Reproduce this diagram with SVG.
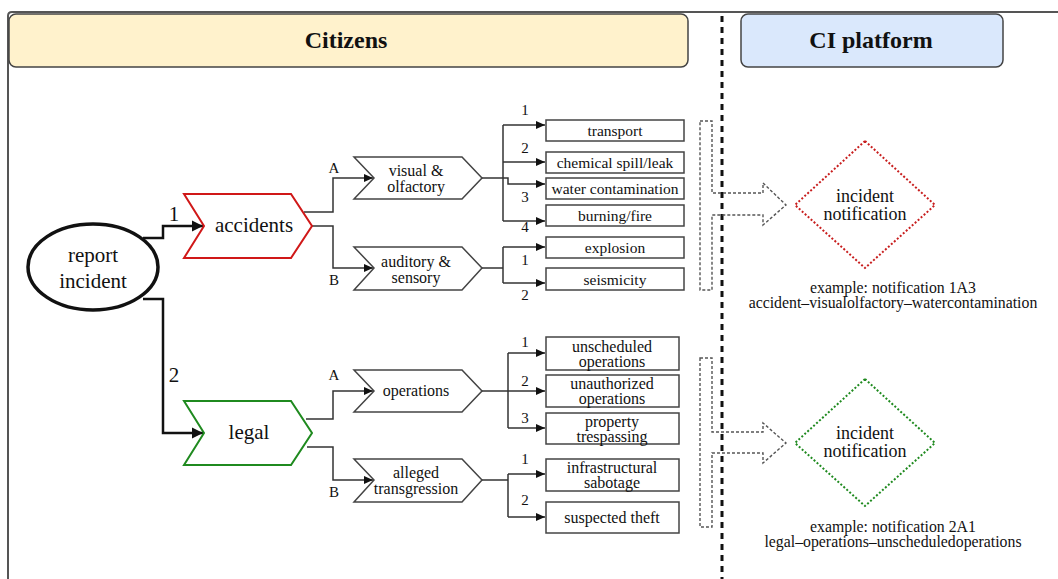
<svg xmlns="http://www.w3.org/2000/svg" width="1058" height="579" viewBox="0 0 1058 579">
<style>
text{font-family:'Liberation Serif','Times New Roman',serif;fill:#111;text-anchor:middle;dominant-baseline:central}
.hdr{font-size:24px;font-weight:bold}
.big{font-size:21px}
.nt{font-size:18px}
.mid{font-size:16px}
.sm{font-size:15.5px}
.lb{font-size:15px}
.ex{font-size:15.8px}
.box{fill:#fff;stroke:#444;stroke-width:1.5}
.chev{fill:#fff;stroke:#444;stroke-width:1.5}
.con{fill:none;stroke:#333;stroke-width:1.5}
.con2{fill:none;stroke:#111;stroke-width:2.5}
.brk{fill:none;stroke:#555;stroke-width:1.4;stroke-dasharray:3 2}
</style>
<defs>
<marker id="ah" markerUnits="userSpaceOnUse" markerWidth="10" markerHeight="10" refX="9" refY="5" orient="auto">
<path d="M0,1 L9,5 L0,9 z" fill="#111"/>
</marker>
<marker id="ah2" markerUnits="userSpaceOnUse" markerWidth="12" markerHeight="12" refX="11" refY="6" orient="auto">
<path d="M0,0.5 L11,6 L0,11.5 z" fill="#111"/>
</marker>
</defs>
<rect width="1058" height="579" fill="#fff"/>
<path d="M8,579 L8,16 Q8,12 12,12 L1058,12" fill="none" stroke="#555" stroke-width="2"/>
<g id="hdr-citizens">
<rect x="9" y="14" width="679" height="53" rx="7" fill="#fff2cc" stroke="#444" stroke-width="1.5"/>
<text class="hdr" x="346" y="40">Citizens</text>
</g>
<g id="hdr-ci">
<rect x="741" y="14" width="262" height="53" rx="7" fill="#dae8fc" stroke="#444" stroke-width="1.5"/>
<text class="hdr" x="871" y="40">CI platform</text>
</g>
<line x1="722" y1="16" x2="722" y2="579" stroke="#111" stroke-width="3" stroke-dasharray="6 5"/>

<g id="connectors">
<path class="con2" d="M143,238 H163 V226 H203" marker-end="url(#ah2)"/>
<path class="con2" d="M143,299 H163 V433 H203" marker-end="url(#ah2)"/>
<path class="con" d="M304,212 H333 V178 H373" marker-end="url(#ah)"/>
<path class="con" d="M312,226 H333 V268 H373" marker-end="url(#ah)"/>
<path class="con" d="M306,419 H333 V391 H373" marker-end="url(#ah)"/>
<path class="con" d="M307,447 H333 V480 H373" marker-end="url(#ah)"/>
<path class="con" d="M482,178 H503"/>
<path class="con" d="M503,125 V221"/>
<path class="con" d="M503,125 H545" marker-end="url(#ah)"/>
<path class="con" d="M503,162 H545" marker-end="url(#ah)"/>
<path class="con" d="M503,178 H508 V184 H545" marker-end="url(#ah)"/>
<path class="con" d="M503,221 H545" marker-end="url(#ah)"/>
<path class="con" d="M482,268 H503"/>
<path class="con" d="M503,247 V283"/>
<path class="con" d="M503,247 H545" marker-end="url(#ah)"/>
<path class="con" d="M503,283 H545" marker-end="url(#ah)"/>
<path class="con" d="M482,391 H545" marker-end="url(#ah)"/>
<path class="con" d="M508,353 V428"/>
<path class="con" d="M508,353 H545" marker-end="url(#ah)"/>
<path class="con" d="M508,428 H545" marker-end="url(#ah)"/>
<path class="con" d="M482,480 H508"/>
<path class="con" d="M508,474 V517"/>
<path class="con" d="M508,474 H545" marker-end="url(#ah)"/>
<path class="con" d="M508,517 H545" marker-end="url(#ah)"/>
<path class="brk" d="M700,121 H712 V193 H763 V183 L786,205 L763,225 V215 H712 V290 H700 Z"/>
<path class="brk" d="M700,358 H712 V432 H763 V423 L786,443 L763,463 V453 H712 V527 H700 Z"/>
<text class="big" x="174" y="214">1</text>
<text class="big" x="174" y="375">2</text>
<text class="lb" x="334" y="168">A</text>
<text class="lb" x="334" y="280">B</text>
<text class="lb" x="334" y="375">A</text>
<text class="lb" x="334" y="492">B</text>
<text class="lb" x="525" y="110">1</text>
<text class="lb" x="525" y="148">2</text>
<text class="lb" x="525" y="197">3</text>
<text class="lb" x="525" y="227">4</text>
<text class="lb" x="525" y="260">1</text>
<text class="lb" x="525" y="295">2</text>
<text class="lb" x="525" y="342">1</text>
<text class="lb" x="525" y="381">2</text>
<text class="lb" x="525" y="418">3</text>
<text class="lb" x="525" y="459">1</text>
<text class="lb" x="525" y="500">2</text>
</g>

<g id="report-incident">
<ellipse cx="93" cy="267" rx="65" ry="43" fill="#fff" stroke="#111" stroke-width="3.5"/>
<text class="big" x="93" y="255">report</text>
<text class="big" x="93" y="281">incident</text>
</g>
<g id="accidents">
<path d="M184,194 H291 L312,226 L291,258 H184 L204,226 Z" fill="#fff" stroke="#d01818" stroke-width="2"/>
<text class="big" x="254" y="225">accidents</text>
</g>
<g id="legal">
<path d="M184,401 H291 L312,433 L291,465 H184 L204,433 Z" fill="#fff" stroke="#1f8a1f" stroke-width="2"/>
<text class="big" x="249" y="432">legal</text>
</g>
<g id="visual">
<path class="chev" d="M354,157 H462 L482,178 L462,199 H354 L374,178 Z"/>
<text class="mid" x="416" y="170">visual &amp;</text>
<text class="mid" x="416" y="186">olfactory</text>
</g>
<g id="auditory">
<path class="chev" d="M354,247 H462 L482,268 L462,290 H354 L374,268 Z"/>
<text class="mid" x="416" y="261">auditory &amp;</text>
<text class="mid" x="416" y="277">sensory</text>
</g>
<g id="operations">
<path class="chev" d="M354,370 H462 L482,391 L462,412 H354 L374,391 Z"/>
<text class="mid" x="416" y="390">operations</text>
</g>
<g id="alleged">
<path class="chev" d="M354,459 H462 L482,480 L462,502 H354 L374,480 Z"/>
<text class="mid" x="416" y="472">alleged</text>
<text class="mid" x="416" y="488">transgression</text>
</g>
<g id="transport"><rect class="box" x="546" y="120" width="138" height="21"/><text class="sm" x="615" y="130">transport</text></g>
<g id="chemical"><rect class="box" x="546" y="152" width="138" height="21"/><text class="sm" x="615" y="162">chemical spill/leak</text></g>
<g id="water"><rect class="box" x="546" y="178" width="138" height="21"/><text class="sm" x="615" y="188">water contamination</text></g>
<g id="burning"><rect class="box" x="546" y="205" width="138" height="21"/><text class="sm" x="615" y="215">burning/fire</text></g>
<g id="explosion"><rect class="box" x="546" y="237" width="138" height="21"/><text class="sm" x="615" y="247">explosion</text></g>
<g id="seismicity"><rect class="box" x="546" y="268" width="138" height="22"/><text class="sm" x="615" y="279">seismicity</text></g>
<g id="unscheduled"><rect class="box" x="546" y="337" width="133" height="33"/><text class="mid" x="612" y="346">unscheduled</text><text class="mid" x="612" y="361">operations</text></g>
<g id="unauthorized"><rect class="box" x="546" y="375" width="133" height="32"/><text class="mid" x="612" y="383">unauthorized</text><text class="mid" x="612" y="398">operations</text></g>
<g id="property"><rect class="box" x="546" y="413" width="133" height="31"/><text class="mid" x="612" y="421">property</text><text class="mid" x="612" y="436">trespassing</text></g>
<g id="sabotage"><rect class="box" x="546" y="459" width="133" height="32"/><text class="mid" x="612" y="467">infrastructural</text><text class="mid" x="612" y="482">sabotage</text></g>
<g id="theft"><rect class="box" x="546" y="502" width="133" height="31"/><text class="mid" x="612" y="517">suspected theft</text></g>

<g id="notif-1">
<path d="M865,141 L935,205 L865,268 L795,205 Z" fill="#fff" stroke="#c81e1e" stroke-width="2" stroke-dasharray="2 2"/>
<text class="nt" x="865" y="196">incident</text>
<text class="nt" x="865" y="214">notification</text>
<text class="ex" x="893" y="287">example: notification 1A3</text>
<text class="ex" x="893" y="302">accident–visualolfactory–watercontamination</text>
</g>
<g id="notif-2">
<path d="M865,379 L935,443 L865,506 L795,443 Z" fill="#fff" stroke="#1f8a1f" stroke-width="2" stroke-dasharray="2 2"/>
<text class="nt" x="865" y="433">incident</text>
<text class="nt" x="865" y="451">notification</text>
<text class="ex" x="893" y="526">example: notification 2A1</text>
<text class="ex" x="893" y="541">legal–operations–unscheduledoperations</text>
</g>
</svg>
